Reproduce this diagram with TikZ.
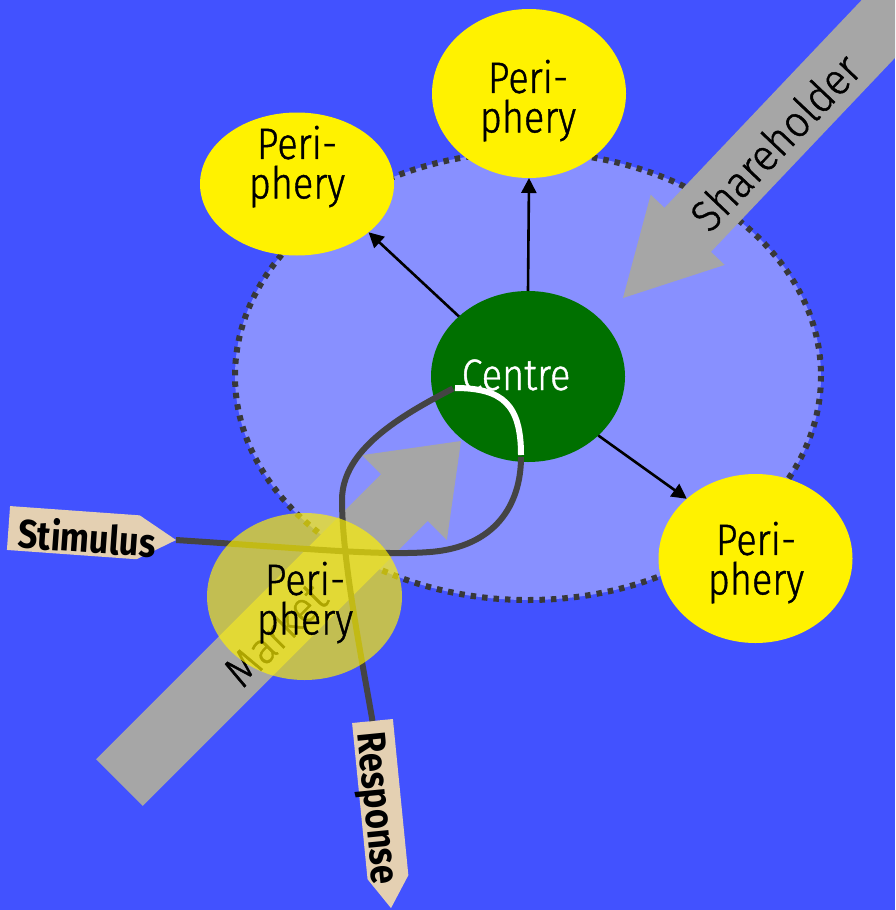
\documentclass[tikz,border=0pt]{standalone}
\usepackage{fontspec}
\usetikzlibrary{shapes.geometric,arrows.meta}
\newfontfamily\nodefont{Fira Sans Light}[FakeStretch=0.86,FakeBold=1.0]
\newfontfamily\arrfont{Fira Sans Light}[FakeStretch=0.93,FakeBold=1.0]
\newfontfamily\tagfont{Fira Sans}[FakeStretch=0.86]
\definecolor{bgblue}{RGB}{66,82,255}
\definecolor{orgblue}{RGB}{136,144,255}
\definecolor{dotgray}{RGB}{56,56,56}
\definecolor{arrgray}{RGB}{166,166,166}
\definecolor{linegray}{RGB}{68,68,68}
\definecolor{tagtan}{RGB}{228,208,178}
\definecolor{cgreen}{RGB}{0,112,0}
\begin{document}
\begin{tikzpicture}[x=1pt,y=-1pt,
  periph/.style={ellipse, fill=yellow, inner sep=0pt, outer sep=0pt, minimum width=194pt},
  ptext/.style={font=\nodefont\fontsize{44}{39.5}\selectfont, align=center, inner sep=0pt, text=black},
  blockarrow/.style={fill=arrgray},
  arrlabel/.style={font=\arrfont\fontsize{44}{50}\selectfont, inner sep=0pt, text=black},
  tagshape/.style={fill=tagtan},
  tagtext/.style={font=\tagfont\bfseries\fontsize{40}{48}\selectfont, inner sep=0pt, text=black, transform shape},
  flow/.style={draw=linegray, line width=6pt},
  hiflow/.style={draw=white, line width=6pt},
  spoke/.style={draw=black, line width=2.6pt, -{Triangle[length=15pt,width=15pt]}},
  dotborder/.style={draw=dotgray, line width=6pt, line cap=butt, dash pattern=on 5.5pt off 6pt},
]
\useasboundingbox (0,0) rectangle (895,910);
\fill[bgblue] (0,0) rectangle (895,910);
\clip (0,0) rectangle (895,910);

% organisation ellipse
\node[ellipse, fill=orgblue, minimum width=586pt, minimum height=448pt, inner sep=0pt] (org) at (528,376) {};
\draw[dotborder] (org.center) ellipse [x radius=293, y radius=224];

% Market arrow
\begin{scope}[shift={(461,441)}, rotate=45]
  \fill[blockarrow] (0,0) -- (-80,-60) -- (-80,-33) -- (-483,-33) -- (-483,33) -- (-80,33) -- (-80,60) -- cycle;
\end{scope}
% Shareholder arrow
\begin{scope}[shift={(623,298)}, rotate=226.5]
  \fill[blockarrow] (0,0) -- (-94,-51) -- (-94,-32) -- (-420,-32) -- (-420,32) -- (-94,32) -- (-94,51) -- cycle;
\end{scope}
\node[arrlabel, rotate=46.5] (shlabel) at (775,142) {Shareholder};
\node[arrlabel, rotate=45] (mktlabel) at (275,634) {Market};

% tags
\begin{scope}[shift={(8.5,528)}, rotate=-4.1]
  \fill[tagshape] (0,-22) -- (130,-22) -- (168,0) -- (130,22) -- (0,22) -- cycle;
  \coordinate (stimtip) at (168,0);
  \node[tagtext, anchor=base west] (stim) at (10,19) {Stimulus};
\end{scope}
\begin{scope}[shift={(372.5,721)}, rotate=-84.35]
  \fill[tagshape] (0,-20.5) -- (157,-20.5) -- (188,0) -- (157,20.5) -- (0,20.5) -- cycle;
  \coordinate (resptop) at (0,0);
  \node[tagtext, anchor=base west] (resp) at (11,16) {Response};
\end{scope}

% centre
\node[ellipse, fill=cgreen, inner sep=0pt, outer sep=0pt, minimum width=194pt, minimum height=171pt] (centre) at (528,376.5) {};
\node[ptext, text=white, anchor=base] (ctext) at (516,390) {Centre};

% stimulus-response path
\coordinate (inA) at (521,457);
\coordinate (inB) at (453,388.5);
\draw[flow] (stimtip) .. controls (300,548) and (380,556) .. (430,552)
  .. controls (495,547) and (521,505) .. (inA);
\draw[flow] (inB) .. controls (400,416) and (342,450) .. (342,500)
  .. controls (342,560) and (362,660) .. (resptop);
\draw[hiflow] (455,388) .. controls (503,388) and (521,405) .. (521,455);

% peripheries
\node[periph, minimum height=143pt] (tl) at (297,184) {};
\node[ptext] (tltext) at (297,166.6) {Peri-\\phery};
\node[periph, minimum height=169pt] (top) at (529,93.5) {};
\node[ptext] (toptext) at (528,100.6) {Peri-\\phery};
\node[periph, minimum height=169pt] (right) at (755.5,558.5) {};
\node[ptext] (righttext) at (756,562.6) {Peri-\\phery};
\node[periph, fill opacity=0.68, minimum height=167pt, minimum width=195pt] (bl) at (304.5,596.5) {};
\node[ptext] (bltext) at (305,602.6) {Peri-\\phery};

% spokes
\draw[spoke] (centre.139) -- (tl.-34);
\draw[spoke] (centre.north) -- (top.south);
\draw[spoke] (centre.-40.5) -- (right.139);
\end{tikzpicture}
\end{document}
